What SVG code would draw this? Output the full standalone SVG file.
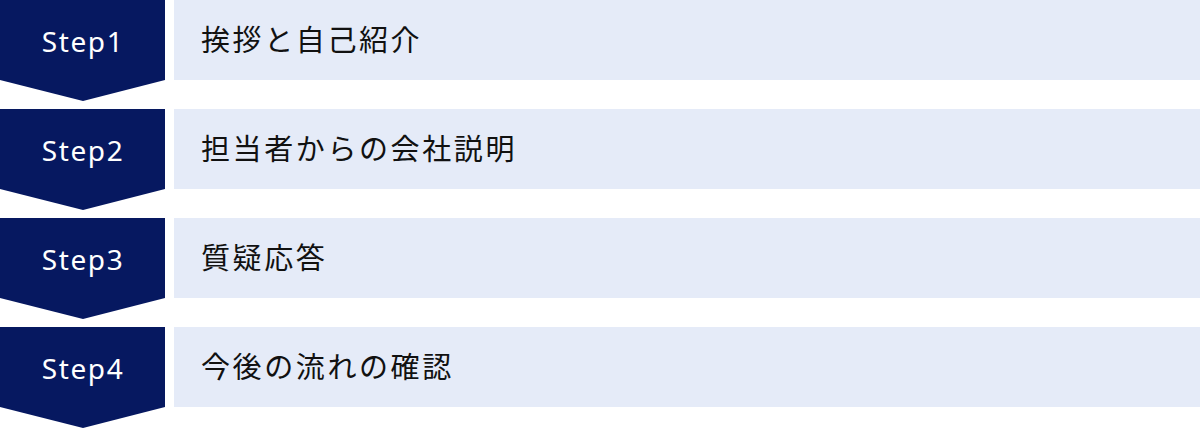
<svg xmlns="http://www.w3.org/2000/svg" width="1200" height="429" viewBox="0 0 1200 429">
<style>
.step{fill:#061860}
.box{fill:#e5ebf8}
.st{font-family:"Noto Sans","DejaVu Sans",sans-serif;font-size:28px;fill:#ffffff;text-anchor:middle;letter-spacing:1.6px}
.lb{font-family:"Noto Sans CJK JP","Noto Sans",sans-serif;font-size:29px;fill:#111111;letter-spacing:2.6px}
</style>
<rect width="1200" height="429" fill="#ffffff"/>
<g id="step1">
<path class="step" d="M0 0H165V80L83 101L0 80Z"/>
<text class="st" x="83" y="52">Step1</text>
<rect class="box" x="174" y="0" width="1026" height="80"/>
<text class="lb" x="201" y="51">挨拶と自己紹介</text>
</g>
<g id="step2">
<path class="step" d="M0 109H165V189L83 210L0 189Z"/>
<text class="st" x="83" y="161">Step2</text>
<rect class="box" x="174" y="109" width="1026" height="80"/>
<text class="lb" x="201" y="160">担当者からの会社説明</text>
</g>
<g id="step3">
<path class="step" d="M0 218H165V298L83 319L0 298Z"/>
<text class="st" x="83" y="270">Step3</text>
<rect class="box" x="174" y="218" width="1026" height="80"/>
<text class="lb" x="201" y="269">質疑応答</text>
</g>
<g id="step4">
<path class="step" d="M0 327H165V407L83 428L0 407Z"/>
<text class="st" x="83" y="379">Step4</text>
<rect class="box" x="174" y="327" width="1026" height="80"/>
<text class="lb" x="201" y="378">今後の流れの確認</text>
</g>
<g id="connectors"></g>
</svg>
